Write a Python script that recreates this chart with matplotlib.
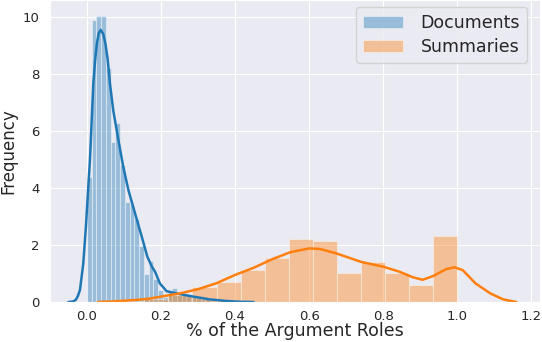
import matplotlib
matplotlib.use("Agg")
import matplotlib.pyplot as plt
import seaborn as sns
import numpy as np

# ---------------- data ----------------
series_names = ["Documents", "Summaries"]

# Documents histogram (density), equal-width bins starting at 0.0
doc_bin_start = 0.0
doc_bin_width = 0.0128
doc_heights = [4.4, 9.9, 10.05, 10.05, 8.2, 5.6, 6.3, 4.8, 3.5, 3.45,
               2.9, 1.95, 1.0, 1.45, 0.8, 0.42, 0.18, 0.42, 0.48, 0.25,
               0.25, 0.25, 0.2, 0.15, 0.12, 0.1, 0.05, 0.05]

# Summaries histogram (density)
sum_edges = [0.09, 0.155, 0.22, 0.285, 0.35, 0.415, 0.48, 0.545, 0.61,
             0.675, 0.74, 0.805, 0.87, 0.935, 1.0]
sum_heights = [0.03, 0.1, 0.25, 0.53, 0.71, 1.12, 1.54, 2.2, 2.15,
               1.02, 1.4, 1.03, 0.6, 2.32]

# KDE curves
doc_kde_x = [-0.05, -0.037, -0.03, -0.025, -0.019, -0.010, -0.003, 0.0035,
             0.008, 0.017, 0.022, 0.027, 0.032, 0.037, 0.044, 0.050, 0.056,
             0.062, 0.071, 0.085, 0.098, 0.112, 0.130, 0.148, 0.163, 0.175,
             0.184, 0.197, 0.215, 0.242, 0.287, 0.332, 0.378, 0.41, 0.45]
doc_kde_y = [0.0, 0.02, 0.08, 0.2, 0.42, 1.36, 2.64, 4.04,
             5.0, 7.66, 8.5, 9.1, 9.45, 9.55, 9.4, 9.05, 8.5,
             7.66, 6.72, 5.67, 4.74, 3.92, 3.1, 2.29, 1.59, 1.25,
             1.06, 0.65, 0.38, 0.3, 0.19, 0.09, 0.035, 0.01, 0.0]

sum_kde_x = [0.03, 0.07, 0.107, 0.14, 0.17, 0.2, 0.25, 0.30, 0.35, 0.40,
             0.45, 0.50, 0.55, 0.60, 0.63, 0.675, 0.74, 0.80, 0.845,
             0.88, 0.907, 0.935, 0.97, 0.993, 1.015, 1.05, 1.09, 1.125,
             1.16]
sum_kde_y = [0.0, 0.02, 0.05, 0.08, 0.12, 0.19, 0.3, 0.45, 0.66, 0.95,
             1.2, 1.5, 1.75, 1.88, 1.86, 1.7, 1.41, 1.24, 1.06,
             0.87, 0.78, 0.91, 1.15, 1.22, 1.12, 0.65, 0.3, 0.09,
             0.0]

x_ticks = [0.0, 0.2, 0.4, 0.6, 0.8, 1.0, 1.2]
y_ticks = [0, 2, 4, 6, 8, 10]

# ---------------- plotting ----------------
sns.set_style("darkgrid")
plt.rcParams['font.family'] = ['DejaVu Sans']

blue = "#1f77b4"
orange = "#ff7f0e"

fig = plt.figure(figsize=(5.42, 3.42), dpi=100)
ax = fig.add_axes([50 / 542, 40 / 342, 490 / 542, 302 / 342])

doc_edges = doc_bin_start + doc_bin_width * np.arange(len(doc_heights) + 1)
ax.bar(doc_edges[:-1], doc_heights, width=np.diff(doc_edges), align="edge",
       color=blue, alpha=0.4, edgecolor="white", linewidth=0.8,
       label=series_names[0])
ax.plot(doc_kde_x, doc_kde_y, color=blue, lw=1.8)

ax.bar(sum_edges[:-1], sum_heights, width=np.diff(sum_edges), align="edge",
       color=orange, alpha=0.4, edgecolor="white", linewidth=0.8,
       label=series_names[1])
ax.plot(sum_kde_x, sum_kde_y, color=orange, lw=1.8)

ax.set_xlim(-0.1, 1.224)
ax.set_ylim(0, 10.6)
ax.set_xticks(x_ticks)
ax.set_xticklabels([f"{t:.1f}" for t in x_ticks])
ax.set_yticks(y_ticks)
ax.tick_params(axis="both", labelsize=9.5, colors=".15")
ax.tick_params(axis="x", pad=2.5)
ax.tick_params(axis="y", pad=4)

ax.set_xlabel("% of the Argument Roles", fontsize=12.5, color=".15")
ax.xaxis.set_label_coords(0.5, -(322 - 302) / 302)
ax.set_ylabel("Frequency", fontsize=12, color=".15", labelpad=4)

leg = ax.legend(loc="upper right", bbox_to_anchor=(477 / 490, 295 / 302),
                borderaxespad=0, fontsize=12.5, handlelength=2.3,
                handletextpad=1.0, frameon=True, labelspacing=0.35)
for h in leg.legend_handles:
    h.set_alpha(0.4)

fig.savefig("out.png", dpi=100)
